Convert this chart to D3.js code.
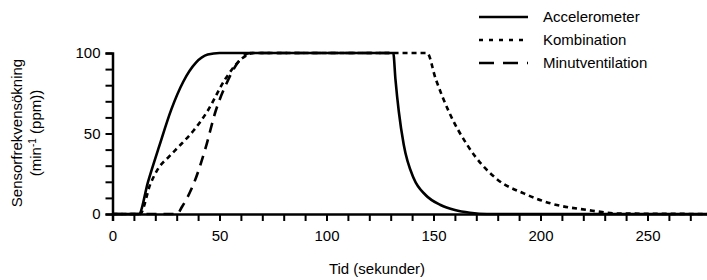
<!DOCTYPE html>
<html>
<head>
<meta charset="utf-8">
<script src="https://cdn.jsdelivr.net/npm/d3@7"></script>
<style>
  body { margin: 0; background: #fff; }
  svg { font-family: "Liberation Sans", Arial, sans-serif; }
</style>
</head>
<body>
<svg width="707" height="280"></svg>
<script>
// values (time in seconds, rate increase in ppm)
var accTime = [0, 12.3, 16.6, 21.8, 27.5, 33, 39, 44.5, 50, 131.2, 132.2, 133.8, 136.1, 140.8, 146.3, 153.3, 160, 167, 175, 280];
var accValue = [0, 0, 20, 42, 65, 82, 94, 99, 100, 100, 84, 63.5, 43, 22, 11.8, 5.6, 2.5, 0.8, 0, 0];

var kombTime = [0, 12.8, 17.8, 21.5, 26.3, 31.8, 38, 44.2, 52.8, 60.6, 66, 147, 151, 157.2, 165.7, 179.8, 192.2, 204.7, 221.8, 237, 280];
var kombValue = [0, 0, 19, 28.5, 35.5, 43, 52, 63.5, 84, 96.7, 100, 100, 84, 63.5, 43, 21.5, 12.8, 6.6, 2.5, 0.3, 0];

var minutTime = [0, 30.2, 32.5, 38, 43.5, 48.1, 53.6, 58.5, 64.5, 130];
var minutValue = [0, 0, 4.5, 19, 41, 63.5, 82, 94, 100, 100];

var seriesNames = ["Accelerometer", "Kombination", "Minutventilation"];
var xTicks = d3.range(0, 271, 10);
var yTicks = d3.range(0, 101, 10);

var svg = d3.select("svg");

var x = d3.scaleLinear().domain([0, 280]).range([112.5, 711.7]);
var y = d3.scaleLinear().domain([0, 100]).range([214, 53]);

function zip(t, v) { return t.map(function (d, i) { return [d, v[i]]; }); }

var series = [
  { name: seriesNames[0], pts: zip(accTime, accValue), dash: null, legendDash: null },
  { name: seriesNames[1], pts: zip(kombTime, kombValue), dash: "5,4", legendDash: "4,6" },
  { name: seriesNames[2], pts: zip(minutTime, minutValue), dash: "10,7", legendDash: "15,9" }
];

var line = d3.line()
  .x(function (d) { return x(d[0]); })
  .y(function (d) { return y(d[1]); })
  .curve(d3.curveMonotoneX);

// axes
var xAxis = svg.append("g")
  .attr("transform", "translate(0,214)")
  .call(d3.axisBottom(x).tickValues(xTicks).tickSize(7).tickPadding(9)
    .tickFormat(function (d) { return d % 50 === 0 ? d : ""; }));

var yAxis = svg.append("g")
  .attr("transform", "translate(112.5,0)")
  .call(d3.axisLeft(y).tickValues(yTicks).tickSize(7).tickPadding(5)
    .tickFormat(function (d) { return d % 50 === 0 ? d : ""; }));

[xAxis, yAxis].forEach(function (g) {
  g.select(".domain").attr("stroke", "#000").attr("stroke-width", 2.5);
  g.selectAll(".tick line").attr("stroke", "#000").attr("stroke-width", 2);
  g.selectAll(".tick text").attr("fill", "#000").style("font-size", "15px")
    .style("font-family", "'Liberation Sans', Arial, sans-serif");
});

// lines
series.slice().reverse().forEach(function (s) {
  svg.append("path")
    .attr("d", line(s.pts))
    .attr("fill", "none")
    .attr("stroke", "#000")
    .attr("stroke-width", 2.6)
    .attr("stroke-dasharray", s.dash);
});

// axis titles
svg.append("text")
  .attr("x", 377).attr("y", 274)
  .attr("text-anchor", "middle")
  .style("font-size", "15px")
  .text("Tid (sekunder)");

var yt = svg.append("text")
  .attr("transform", "translate(22,133) rotate(-90)")
  .attr("text-anchor", "middle")
  .style("font-size", "15px");
yt.append("tspan").attr("x", 0).attr("y", 0).text("Sensorfrekvensökning");
var l2 = yt.append("tspan").attr("x", 0).attr("y", 19);
l2.append("tspan").text("(min");
l2.append("tspan").attr("dy", -5).style("font-size", "10px").text("-1");
l2.append("tspan").attr("dy", 5).text(" (ppm))");

// legend
var legend = svg.append("g");
series.forEach(function (s, i) {
  var ly = 17 + i * 23;
  legend.append("line")
    .attr("x1", 479).attr("x2", 528)
    .attr("y1", ly).attr("y2", ly)
    .attr("stroke", "#000").attr("stroke-width", 2.6)
    .attr("stroke-dasharray", s.legendDash);
  legend.append("text")
    .attr("x", 543).attr("y", ly + 5)
    .style("font-size", "15px")
    .text(s.name);
});
</script>
</body>
</html>
